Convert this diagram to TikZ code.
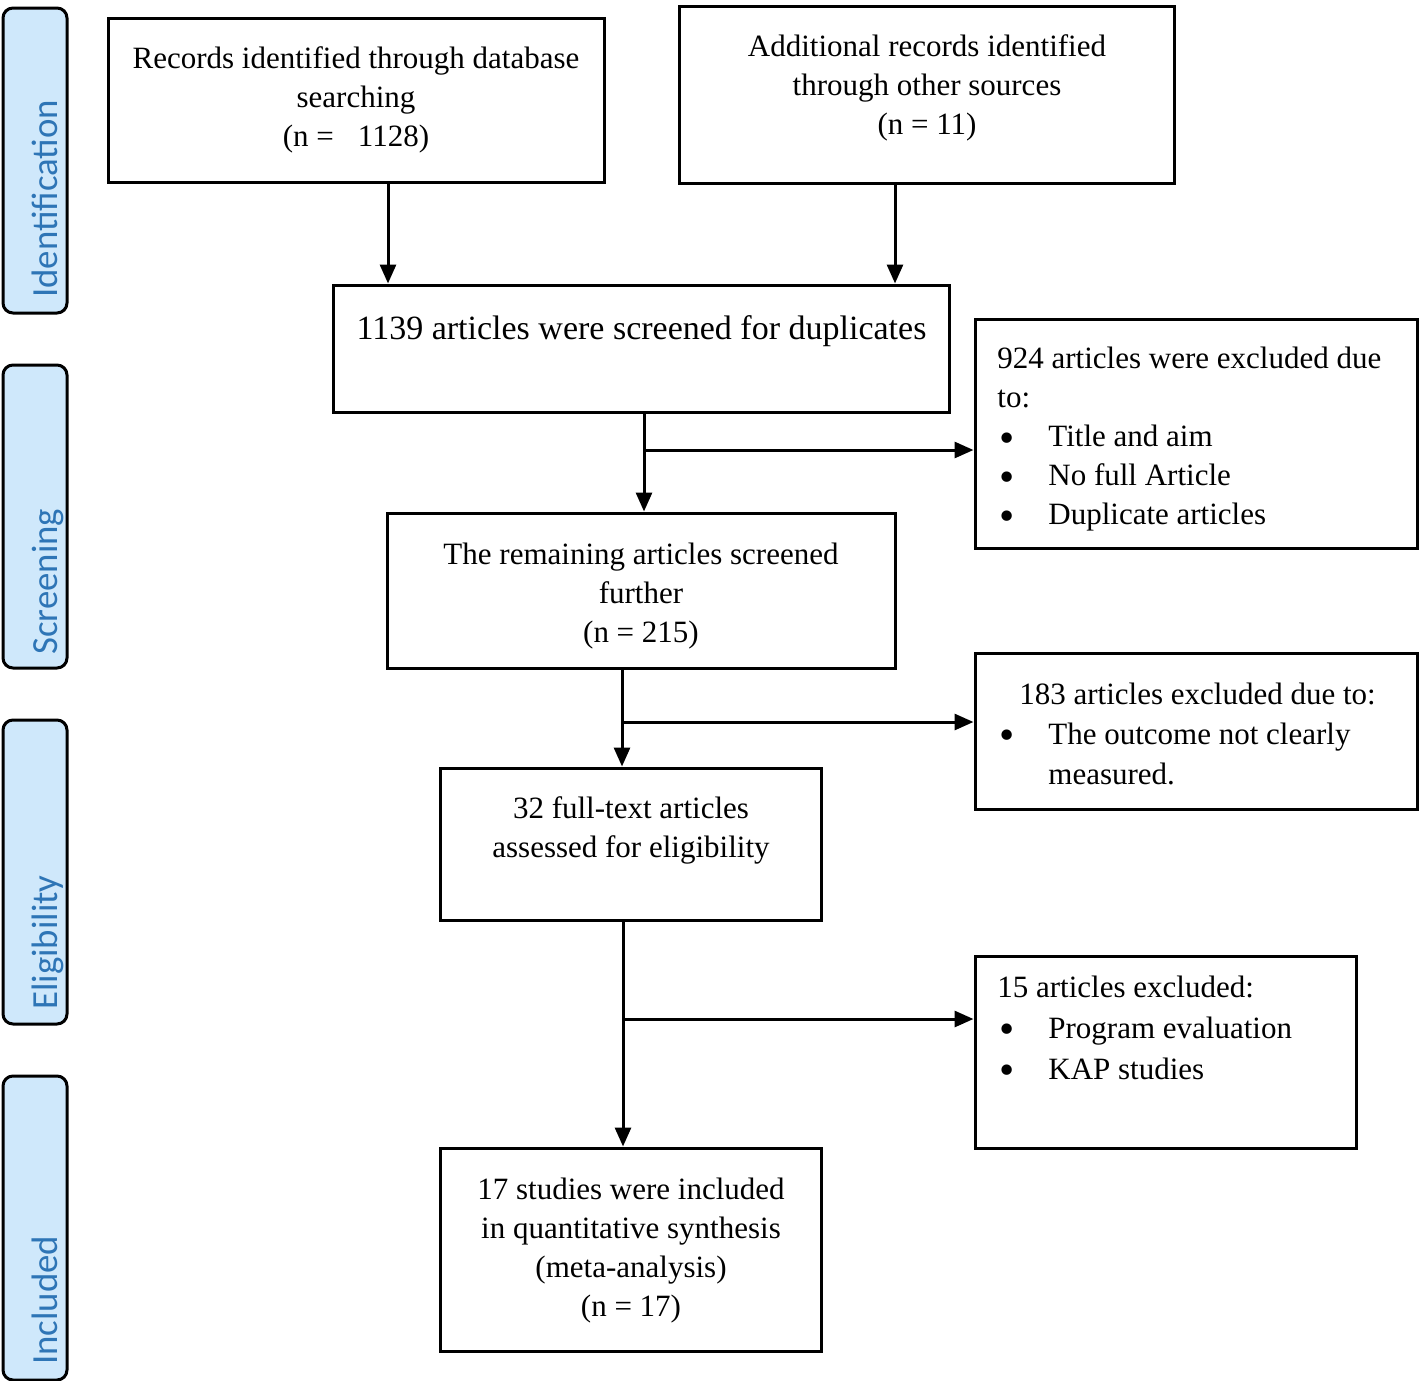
\documentclass[tikz,border=0pt]{standalone}
\usepackage{fontspec}
\setmainfont{Liberation Serif}
\newfontfamily\sidefont{Carlito}
\usetikzlibrary{arrows.meta}
\definecolor{sidefill}{RGB}{207,232,251}
\definecolor{sidetext}{RGB}{46,117,182}
\newcommand\bigbul{\smash{\raisebox{-2.6pt}{\scalebox{1.4}{\textbullet}}}}
\newcommand\bitem[1]{\makebox[25.5pt][l]{\hspace{1pt}\bigbul}#1}
\newcommand\bcont[1]{\makebox[25.5pt][l]{}#1}
\begin{document}
\begin{tikzpicture}[x=0.5pt,y=-0.5pt,
  boxst/.style={draw=black,line width=1.5pt,rectangle,inner sep=0pt},
  sidest/.style={draw=black,line width=1.5pt,fill=sidefill,rounded corners=5pt,rectangle,inner sep=0pt},
  sidelab/.style={rotate=90,anchor=base west,inner sep=0pt,text=sidetext,font=\sidefont\fontsize{18.4}{21}\selectfont},
  txt/.style={inner sep=0pt,align=center,font=\fontsize{15.5}{19.5}\selectfont},
  ltxt/.style={inner sep=0pt,align=left,anchor=west},
  arr/.style={line width=1.5pt,-{Triangle[length=9.5pt,width=8pt]}},
  ln/.style={line width=1.5pt}]
\useasboundingbox (0,0) rectangle (1424,1381);
% side phase boxes
\draw[sidest] (3,8) rectangle (67,313);
\draw[sidest] (3,365) rectangle (67,668);
\draw[sidest] (3,720) rectangle (67,1024);
\draw[sidest] (3,1076) rectangle (67,1380);
\node[sidelab] (s1) at (57,298) {Identification};
\node[sidelab] (s2) at (57,655) {Screening};
\node[sidelab] (s3) at (57,1010) {Eligibility};
\node[sidelab] (s4) at (57,1365) {Included};
% boxes
\node[boxst,minimum width=248pt,minimum height=82pt] (b1) at (356,100) {};
\node[boxst,minimum width=247.5pt,minimum height=88.5pt] (b2) at (926.5,94.5) {};
\node[boxst,minimum width=308pt,minimum height=63.5pt] (b3) at (641,348.5) {};
\node[boxst,minimum width=221pt,minimum height=114.5pt] (b4) at (1196,433.5) {};
\node[boxst,minimum width=254pt,minimum height=77.5pt] (b5) at (641,590.5) {};
\node[boxst,minimum width=221pt,minimum height=78pt] (b6) at (1196,731) {};
\node[boxst,minimum width=190.5pt,minimum height=76pt] (b7) at (630.5,844) {};
\node[boxst,minimum width=190.5pt,minimum height=96pt] (b8) at (1165.5,1052) {};
\node[boxst,minimum width=190.5pt,minimum height=101.5pt] (b9) at (630.5,1249.5) {};
% texts
\node[txt] (t1) at (356,100) {Records identified through database\\searching\\(n =\hspace{12pt}1128)};
\node[txt] (t2) at (927,88) {Additional records identified\\through other sources\\(n = 11)};
\node[txt,font=\fontsize{17}{20}\selectfont] (t3) at (641.5,331) {1139 articles were screened for duplicates};
\node[txt] (t5) at (641,596) {The remaining articles screened\\further\\(n = 215)};
\node[txt] (t7) at (631,830) {32 full-text articles\\assessed for eligibility};
\node[txt] (t9) at (631,1251) {17 studies were included\\in quantitative synthesis\\(meta-analysis)\\(n = 17)};
\node[ltxt,font=\fontsize{15.5}{19.5}\selectfont] (t4) at (997,439.5) {924 articles were excluded due\\to:\\\bitem{Title and aim}\\\bitem{No full Article}\\\bitem{Duplicate articles}};
\node[ltxt,font=\fontsize{15.5}{20}\selectfont] (t6) at (997,734) {\hspace{11pt}183 articles excluded due to:\\\bitem{The outcome not clearly}\\\bcont{measured.}};
\node[ltxt,font=\fontsize{15.5}{20.5}\selectfont] (t8) at (997,1028) {15 articles excluded:\\\bitem{Program evaluation}\\\bitem{KAP studies}};
% junction coordinates
\coordinate (a1) at (388,0);
\coordinate (a2) at (895,0);
\coordinate (j1) at (644,450);
\coordinate (j2) at (622,722);
\coordinate (j3) at (623,1019);
% connectors
\draw[arr] (b1.south -| a1) -- (b3.north -| a1);
\draw[arr] (b2.south -| a2) -- (b3.north -| a2);
\draw[arr] (b3.south -| j1) -- (b5.north -| j1);
\draw[arr] (j1) -- (j1 -| b4.west);
\draw[arr] (b5.south -| j2) -- (b7.north -| j2);
\draw[arr] (j2) -- (j2 -| b6.west);
\draw[arr] (b7.south -| j3) -- (b9.north -| j3);
\draw[arr] (j3) -- (j3 -| b8.west);
\end{tikzpicture}
\end{document}
